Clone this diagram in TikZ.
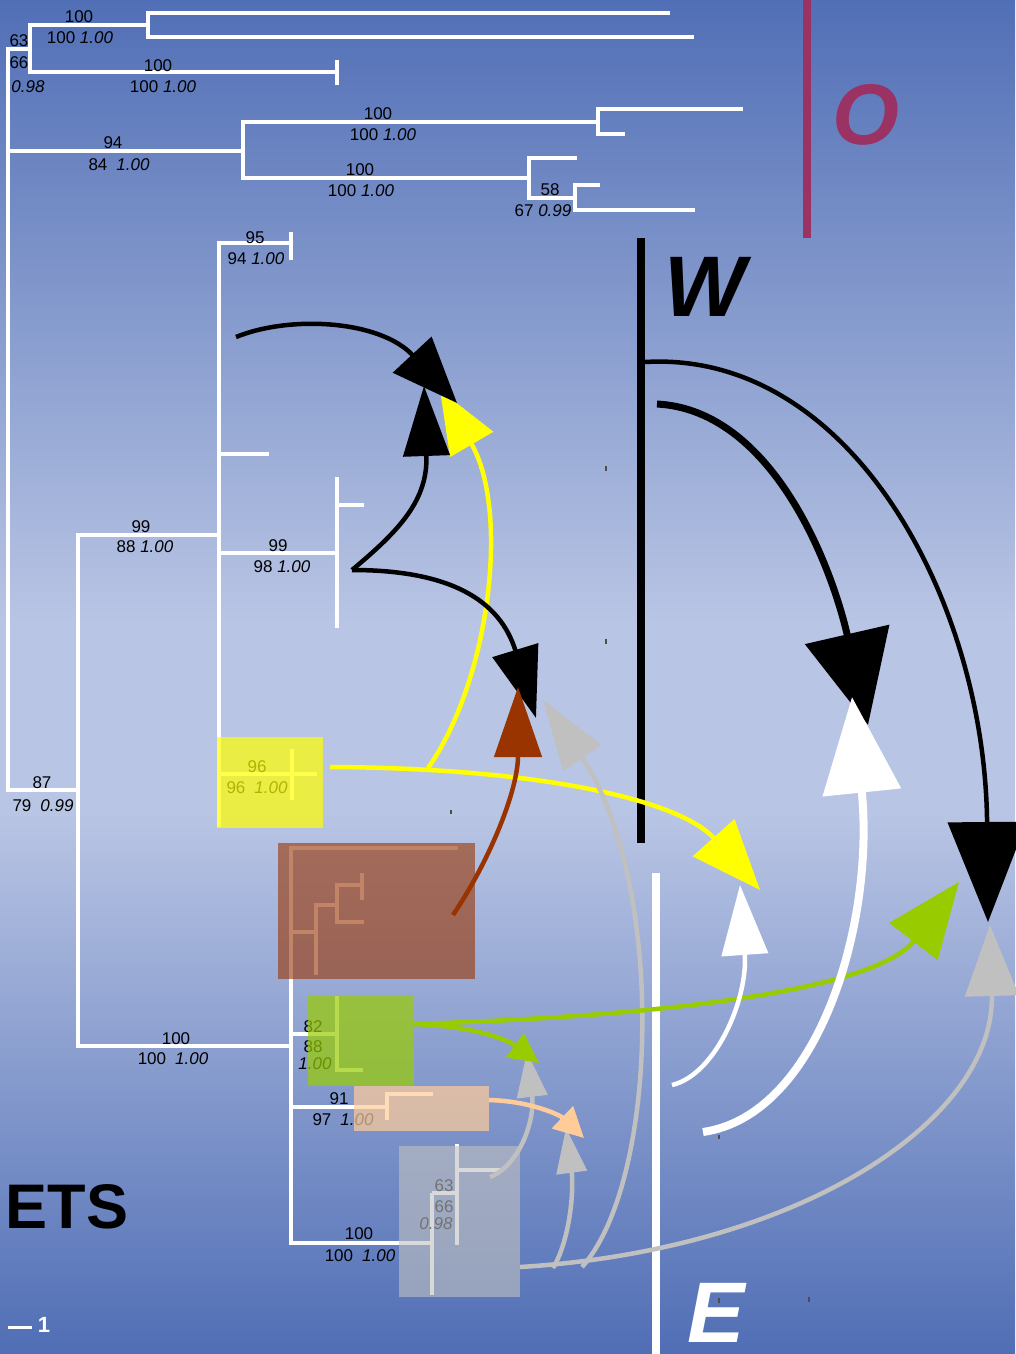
\documentclass[tikz,border=0pt]{standalone}
\usepackage{fontspec}
\setmainfont{Liberation Sans}
\usetikzlibrary{arrows.meta}
\definecolor{bgtop}{RGB}{81,111,182}
\definecolor{bgmid}{RGB}{185,197,228}
\definecolor{bgbot}{RGB}{80,110,181}
\definecolor{ogcol}{RGB}{155,50,100}
\definecolor{yelc}{RGB}{255,255,0}
\definecolor{grnc}{RGB}{153,204,0}
\definecolor{brnc}{RGB}{153,51,0}
\definecolor{pchc}{RGB}{255,204,153}
\definecolor{gryc}{RGB}{192,192,192}
\pgfdeclareverticalshading{bgshade}{100bp}{color(0bp)=(bgbot); color(25bp)=(bgbot); color(45bp)=(bgmid); color(52bp)=(bgmid); color(75bp)=(bgtop); color(100bp)=(bgtop)}
\begin{document}
\begin{tikzpicture}[x=1pt,y=-1pt,
  tree/.style={draw=white,line width=3.3pt},
  lbl/.style={font=\fontsize{17}{19}\selectfont,inner sep=0pt},
  clade/.style={draw=none,inner sep=0pt,outer sep=0pt,anchor=north west},
  bar/.style={line width=7.5pt},
  big/.style={font=\fontsize{86}{90}\selectfont\bfseries\itshape,inner sep=0pt},
  tick/.style={draw=black!70,line width=1.2pt},
  thin/.style={line width=4.5pt}]
\useasboundingbox (0,0) rectangle (1015,1354);
\shade[shading=bgshade] (0,0) rectangle (1015,1354);

% ---------- tree (outgroup part) ----------
\draw[tree] (30,49) -- (8,49) -- (8,790) -- (78,790);
\draw[tree] (8,151) -- (243,151);
\draw[tree] (148,25) -- (30,25) -- (30,72) -- (337,72);
\draw[tree] (337,60) -- (337,85);
\draw[tree] (670,13) -- (148,13) -- (148,37) -- (694,37);
\draw[tree] (598,122) -- (243,122) -- (243,178) -- (529,178);
\draw[tree] (743,109) -- (598,109) -- (598,134) -- (625,134);
\draw[tree] (577,158) -- (529,158) -- (529,198) -- (575,198);
\draw[tree] (600,185) -- (575,185) -- (575,210) -- (695,210);
% ---------- tree (ingroup) ----------
\draw[tree] (219,535) -- (78,535) -- (78,1046) -- (291,1046);
\draw[tree] (291,243) -- (219,243) -- (219,827);
\draw[tree] (291,232) -- (291,260);
\draw[tree] (219,454) -- (269,454);
\draw[tree] (219,553) -- (337,553);
\draw[tree] (337,477) -- (337,628);
\draw[tree] (337,505) -- (364,505);
\draw[tree] (219,774) -- (317,774);
\draw[tree] (292,749) -- (292,800);
\draw[tree] (458,848) -- (291,848) -- (291,1243) -- (432,1243);
\draw[tree] (291,932) -- (316,932);
\draw[tree] (337,905) -- (316,905) -- (316,975);
\draw[tree] (362,885) -- (337,885) -- (337,922) -- (364,922);
\draw[tree] (362,873) -- (362,900);
\draw[tree] (291,1034) -- (337,1034);
\draw[tree] (337,996) -- (337,1070) -- (363,1070);
\draw[tree] (291,1107) -- (387,1107);
\draw[tree] (387,1120) -- (387,1094) -- (433,1094);
\draw[tree] (432,1193) -- (432,1295);
\draw[tree] (432,1193) -- (457,1193);
\draw[tree] (457,1144) -- (457,1245);
\draw[tree] (457,1170) -- (502,1170);

% ---------- support labels ----------
\node[lbl] (l1) at (79,17) {100};
\node[lbl] (l2) at (80,38) {100 \textit{1.00}};
\node[lbl] (l3) at (19,41) {63};
\node[lbl] (l4) at (19,63) {66};
\node[lbl] (l5) at (28,87) {\textit{0.98}};
\node[lbl] (l6) at (158,66) {100};
\node[lbl] (l7) at (163,87) {100 \textit{1.00}};
\node[lbl] (l8) at (113,143) {94};
\node[lbl] (l9) at (119,165) {84\hspace{9pt}\textit{1.00}};
\node[lbl] (l10) at (378,114) {100};
\node[lbl] (l11) at (383,135) {100 \textit{1.00}};
\node[lbl] (l12) at (360,170) {100};
\node[lbl] (l13) at (361,191) {100 \textit{1.00}};
\node[lbl] (l14) at (550,190) {58};
\node[lbl] (l15) at (543,211) {67 \textit{0.99}};
\node[lbl] (l16) at (255,238) {95};
\node[lbl] (l17) at (256,259) {94 \textit{1.00}};
\node[lbl] (l18) at (141,527) {99};
\node[lbl] (l19) at (145,547) {88 \textit{1.00}};
\node[lbl] (l20) at (278,546) {99};
\node[lbl] (l21) at (282,567) {98 \textit{1.00}};
\node[lbl] (l22) at (257,767) {96};
\node[lbl] (l23) at (257,788) {96\hspace{9pt}\textit{1.00}};
\node[lbl] (l24) at (42,783) {87};
\node[lbl] (l25) at (43,806) {79\hspace{9pt}\textit{0.99}};
\node[lbl] (l26) at (176,1039) {100};
\node[lbl] (l27) at (173,1059) {100\hspace{9pt}\textit{1.00}};
\node[lbl] (l28) at (313,1027) {82};
\node[lbl] (l29) at (313,1047) {88};
\node[lbl] (l30) at (315,1064) {\textit{1.00}};
\node[lbl] (l31) at (339,1099) {91};
\node[lbl] (l32) at (343,1120) {97\hspace{9pt}\textit{1.00}};
\node[lbl] (l33) at (444,1186) {63};
\node[lbl] (l34) at (444,1207) {66};
\node[lbl] (l35) at (436,1224) {\textit{0.98}};
\node[lbl] (l36) at (359,1234) {100};
\node[lbl] (l37) at (360,1256) {100\hspace{9pt}\textit{1.00}};

% ---------- clade boxes ----------
\node[clade,fill=yelc,fill opacity=0.7,minimum width=106pt,minimum height=91pt] (ybox) at (217,737) {};
\node[clade,fill=brnc,fill opacity=0.6,minimum width=197pt,minimum height=136pt] (bbox) at (278,843) {};
\node[clade,fill=grnc,fill opacity=0.7,minimum width=106pt,minimum height=91pt] (gbox) at (308,995) {};
\node[clade,fill=pchc,fill opacity=0.7,minimum width=135pt,minimum height=45pt] (pbox) at (354,1086) {};
\node[clade,fill=gryc,fill opacity=0.6,minimum width=121pt,minimum height=151pt] (sbox) at (399,1146) {};

% ---------- region bars and letters ----------
\coordinate (oT) at (807,0);    \coordinate (oB) at (807,238);
\coordinate (wT) at (641,238);  \coordinate (wB) at (641,843);
\coordinate (eT) at (656,873);  \coordinate (eB) at (656,1354);
\draw[bar,ogcol] (oT) -- (oB);
\draw[bar,black] (wT) -- (wB);
\draw[bar,white] (eT) -- (eB);
\node[big,text=ogcol] (Olbl) at (866,115) {O};
\node[big,text=black] (Wlbl) at (705,287) {W};
\node[big,text=white] (Elbl) at (716,1313) {E};
\node[font=\fontsize{63}{66}\selectfont\bfseries,inner sep=0pt] (ets) at (67,1207) {ETS};
\coordinate (sb1) at (8,1327); \coordinate (sb2) at (32,1327);
\draw[white,line width=3pt] (sb1) -- (sb2);
\node[font=\fontsize{22}{24}\selectfont\bfseries,text=white,inner sep=0pt] (sbl) at (44,1325) {1};

% small marks
\draw[tick] (606,466) -- (606,471);
\draw[tick] (606,639) -- (606,644);
\draw[tick] (451,810) -- (451,814);
\draw[tick] (719,1135) -- (719,1139);
\draw[tick] (719,1298) -- (719,1303);
\draw[tick] (809,1297) -- (809,1302);

% ---------- arrow end points ----------
\coordinate (yS) at (330,767);  \coordinate (yJ) at (428,768);
\coordinate (yT1) at (440,390); \coordinate (yT2) at (760,890);
\coordinate (gS) at (520,1267); \coordinate (gA) at (553,1268);
\coordinate (gB) at (582,1267); \coordinate (gC) at (490,1177);
\coordinate (gT1) at (990,925); \coordinate (gT2) at (543,700);
\coordinate (gT3) at (527,1052);\coordinate (gT4) at (566,1128);
\coordinate (grS) at (414,1024);\coordinate (grT1) at (959,882);
\coordinate (grT2) at (539,1063);
\coordinate (pS) at (489,1100); \coordinate (pT) at (584,1138);
\coordinate (b1S) at (236,337); \coordinate (b1T) at (457,403);
\coordinate (cusp) at (352,570);
\coordinate (b2T) at (424,386); \coordinate (b3T) at (536,718);
\coordinate (wiS) at (657,404); \coordinate (wiT) at (868,725);
\coordinate (woS) at (645,362); \coordinate (woT) at (988,922);
\coordinate (brS) at (453,915); \coordinate (brT) at (518,687);
\coordinate (etS) at (672,1085);\coordinate (etT) at (740,885);
\coordinate (eTS) at (703,1132);\coordinate (eTT) at (852,697);

% yellow
\draw[thin,yelc,-{Triangle[length=70pt,width=55pt]}] (yS) .. controls (540,768) and (680,800) .. (yT2);
\draw[thin,yelc,-{Triangle[length=63pt,width=49pt]}] (yJ) .. controls (490,680) and (510,510) .. (yT1);
% gray
\draw[thin,gryc,-{Triangle[length=71pt,width=53pt]}] (gS) .. controls (800,1250) and (995,1120) .. (gT1);
\draw[thin,gryc,-{Triangle[length=70pt,width=45pt]}] (gB) .. controls (660,1180) and (665,880) .. (gT2);
\draw[thin,gryc,-{Triangle[length=45pt,width=30pt]}] (gC) .. controls (520,1165) and (535,1120) .. (gT3);
\draw[thin,gryc,-{Triangle[length=45pt,width=30pt]}] (gA) .. controls (570,1240) and (574,1190) .. (gT4);
% green
\draw[thin,grnc,-{Triangle[length=75pt,width=60pt]}] (grS) .. controls (700,1015) and (880,985) .. (grT1);
\draw[thin,grnc,-{Triangle[length=30pt,width=29pt]}] (grS) .. controls (470,1026) and (505,1038) .. (grT2);
% peach
\draw[thin,pchc,-{Triangle[length=30pt,width=30pt]}] (pS) .. controls (530,1101) and (560,1115) .. (pT);
% black
\draw[thin,black,-{Triangle[length=66pt,width=52pt]}] (b1S) .. controls (290,315) and (380,320) .. (b1T);
\draw[thin,black,-{Triangle[length=70pt,width=46pt]}] (cusp) .. controls (400,530) and (428,500) .. (b2T);
\draw[thin,black,-{Triangle[length=71pt,width=47pt]}] (cusp) .. controls (450,570) and (500,600) .. (b3T);
\draw[line width=7pt,black,-{Triangle[length=93pt,width=85pt]}] (wiS) .. controls (770,410) and (830,560) .. (wiT);
\draw[line width=4.5pt,black,-{Triangle[length=100pt,width=78pt]}] (woS) .. controls (850,350) and (985,600) .. (woT);
% brown
\draw[thin,brnc,-{Triangle[length=70pt,width=47pt]}] (brS) .. controls (490,860) and (518,790) .. (brT);
% white
\draw[thin,white,-{Triangle[length=70pt,width=46pt]}] (etS) .. controls (715,1075) and (748,1000) .. (etT);
\draw[line width=8pt,white,-{Triangle[length=96pt,width=77pt]}] (eTS) .. controls (820,1115) and (875,920) .. (eTT);
\end{tikzpicture}
\end{document}
